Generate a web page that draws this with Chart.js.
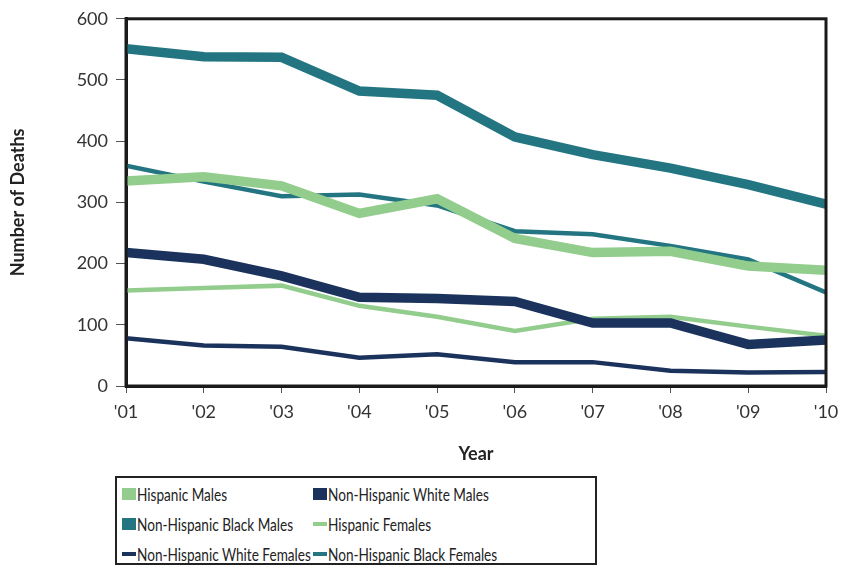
<!DOCTYPE html>
<html lang="en">
<head>
    <meta charset="UTF-8">
    <title>Number of Deaths by Year</title>
    <script src="https://cdn.jsdelivr.net/npm/chart.js"></script>
    <style>
        body { margin: 0; background: #fff; font-family: Lato, sans-serif; }
        .wrap { position: relative; width: 852px; height: 567px; }
        #chart { position: absolute; left: 0; top: 0; }
        .legend { position: absolute; left: 115px; top: 476px; width: 478px; height: 85px; border: 2px solid #222; }
        .item { position: absolute; display: flex; align-items: center; font-size: 17px; color: #222; white-space: nowrap; height: 20px; }
        .swatch { display: inline-block; width: 14px; margin-right: 1px; flex: none; }
        .txt { display: inline-block; transform: scaleX(0.8); transform-origin: left center; }
    </style>
</head>
<body>
<div class="wrap">
    <canvas id="chart" width="852" height="470"></canvas>
    <div class="legend" id="legend"></div>
</div>
<script>
    const years = ["'01", "'02", "'03", "'04", "'05", "'06", "'07", "'08", "'09", "'10"];

    const hispanicMales = [335, 342, 327, 282, 306, 241, 218, 220, 196, 189];
    const nhWhiteMales = [218, 207, 180, 145, 143, 138, 103, 103, 68, 75];
    const nhBlackMales = [551, 538, 537, 482, 475, 407, 378, 356, 329, 297];
    const hispanicFemales = [156, 160, 164, 131, 113, 90, 110, 113, 97, 82];
    const nhWhiteFemales = [78, 66, 64, 46, 52, 39, 39, 25, 22, 23];
    const nhBlackFemales = [360, 334, 310, 313, 295, 253, 248, 229, 207, 153];

    const GREEN = '#93cd8d', NAVY = '#1b335c', TEAL = '#237681';

    const series = [
        { label: 'Hispanic Males', data: hispanicMales, color: GREEN, width: 9.5 },
        { label: 'Non-Hispanic White Males', data: nhWhiteMales, color: NAVY, width: 9.5 },
        { label: 'Non-Hispanic Black Males', data: nhBlackMales, color: TEAL, width: 9.5 },
        { label: 'Hispanic Females', data: hispanicFemales, color: GREEN, width: 4.5 },
        { label: 'Non-Hispanic White Females', data: nhWhiteFemales, color: NAVY, width: 4.5 },
        { label: 'Non-Hispanic Black Females', data: nhBlackFemales, color: TEAL, width: 4.5 }
    ];

    // box around the plot area
    const frame = {
        id: 'frame',
        afterDatasetsDraw(chart) {
            const a = chart.chartArea, ctx = chart.ctx;
            ctx.save();
            ctx.strokeStyle = '#1a1a1a';
            ctx.lineWidth = 3;
            ctx.strokeRect(a.left, a.top, a.right - a.left, a.bottom - a.top);
            ctx.restore();
        }
    };

    new Chart(document.getElementById('chart'), {
        type: 'line',
        data: {
            labels: years,
            datasets: series.map(s => ({
                label: s.label,
                data: s.data,
                borderColor: s.color,
                backgroundColor: s.color,
                borderWidth: s.width,
                pointRadius: 0,
                tension: 0,
                fill: false,
                clip: 0,
                borderJoinStyle: 'miter',
                borderCapStyle: 'butt'
            }))
        },
        options: {
            responsive: false,
            animation: false,
            layout: { padding: { top: 16, right: 26, left: 0, bottom: 0 } },
            plugins: { legend: { display: false }, tooltip: { enabled: false } },
            scales: {
                x: {
                    offset: false,
                    afterFit: s => { s.height = 84; },
                    grid: { drawOnChartArea: false, tickLength: 7, tickColor: '#555', lineWidth: 1 },
                    border: { color: '#1a1a1a', width: 3 },
                    ticks: { color: '#333', font: { family: 'Lato', size: 18 }, padding: 8, maxRotation: 0 },
                    title: { display: true, text: 'Year', color: '#222', font: { family: 'Lato', size: 18, weight: 'bold' }, padding: { bottom: 5 } }
                },
                y: {
                    min: 0,
                    max: 600,
                    afterFit: s => { s.width = 126; },
                    grid: { drawOnChartArea: false, tickLength: 10, tickColor: '#555', lineWidth: 1 },
                    border: { color: '#1a1a1a', width: 3 },
                    ticks: { stepSize: 100, color: '#333', font: { family: 'Lato', size: 18 }, padding: 8 },
                    title: { display: true, text: 'Number of Deaths', color: '#222', font: { family: 'Lato', size: 18, weight: 'bold' }, padding: { top: 7 } }
                }
            }
        },
        plugins: [frame]
    });

    // legend: two columns, three rows
    const legend = document.getElementById('legend');
    series.forEach((s, i) => {
        const col = i % 2, row = Math.floor(i / 2);
        const item = document.createElement('div');
        item.className = 'item';
        item.style.left = (col === 0 ? 5 : 196) + 'px';
        item.style.top = (6 + row * 30) + 'px';
        const sw = document.createElement('span');
        sw.className = 'swatch';
        sw.style.background = s.color;
        sw.style.height = (s.width > 5 ? 12 : 4) + 'px';
        const txt = document.createElement('span');
        txt.className = 'txt';
        txt.textContent = s.label;
        item.appendChild(sw);
        item.appendChild(txt);
        legend.appendChild(item);
    });
</script>
</body>
</html>
